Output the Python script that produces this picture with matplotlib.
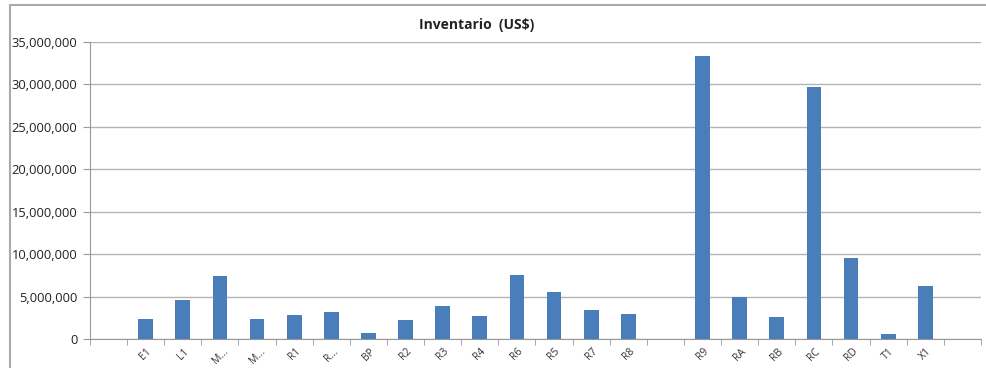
import numpy as np
import matplotlib
matplotlib.use("Agg")
import matplotlib.pyplot as plt
from matplotlib.ticker import FuncFormatter, MultipleLocator
from matplotlib.patches import Rectangle

# categories (empty strings are blank slots in the original chart)
categories = ["", "E1", "L1", "M\u2026", "M\u2026", "R1", "R\u2026", "BP", "R2", "R3",
              "R4", "R6", "R5", "R7", "R8", "", "R9", "RA", "RB", "RC", "RD",
              "T1", "X1", ""]
values = [0, 2.4e6, 4.6e6, 7.4e6, 2.35e6, 2.8e6, 3.2e6, 0.75e6, 2.2e6, 3.85e6,
          2.7e6, 7.5e6, 5.5e6, 3.4e6, 3.0e6, 0, 33.4e6, 5.0e6, 2.55e6, 29.7e6,
          9.6e6, 0.55e6, 6.2e6, 0]

plt.rcParams['font.family'] = ['Open Sans', 'DejaVu Sans']

fig = plt.figure(figsize=(9.87, 3.68), dpi=100)
ax = fig.add_axes([90 / 987, 29 / 368, 891 / 987, 297 / 368])

x = np.arange(len(categories))
ax.bar(x, values, width=0.4, color="#4a7ebb", zorder=3)

ax.set_xlim(-0.5, len(categories) - 0.5)
ax.set_ylim(0, 35e6)
ax.yaxis.set_major_locator(MultipleLocator(5e6))
ax.yaxis.set_major_formatter(FuncFormatter(lambda v, p: f"{v:,.0f}"))
ax.grid(axis="y", color="#b4b4b4", linewidth=1, zorder=0)

ax.set_xticks(x)
ax.set_xticklabels(categories, rotation=45, ha="center", fontsize=7.5, color="#333333")
ax.set_xticks(np.arange(len(categories) + 1) - 0.5, minor=True)
ax.tick_params(axis="x", which="major", length=0, pad=5)
ax.tick_params(axis="x", which="minor", length=4, color="#999999")
ax.tick_params(axis="y", length=5, color="#999999", labelsize=9.3, labelcolor="#222222", pad=4)

for s in ["top", "right"]:
    ax.spines[s].set_visible(False)
ax.spines["left"].set_color("#999999")
ax.spines["bottom"].set_color("#999999")

fig.text(0.483, 0.932, "Inventario  (US$)", ha="center", va="center",
         fontsize=10, fontweight="bold", color="#222222")

# outer chart border (cropped at right and bottom in the original)
fig.patches.append(Rectangle((10 / 987, -5 / 368), 990 / 987, 368 / 368,
                             transform=fig.transFigure, fill=False,
                             edgecolor="#aaaaaa", linewidth=1.5))

fig.savefig("out.png", dpi=100)
